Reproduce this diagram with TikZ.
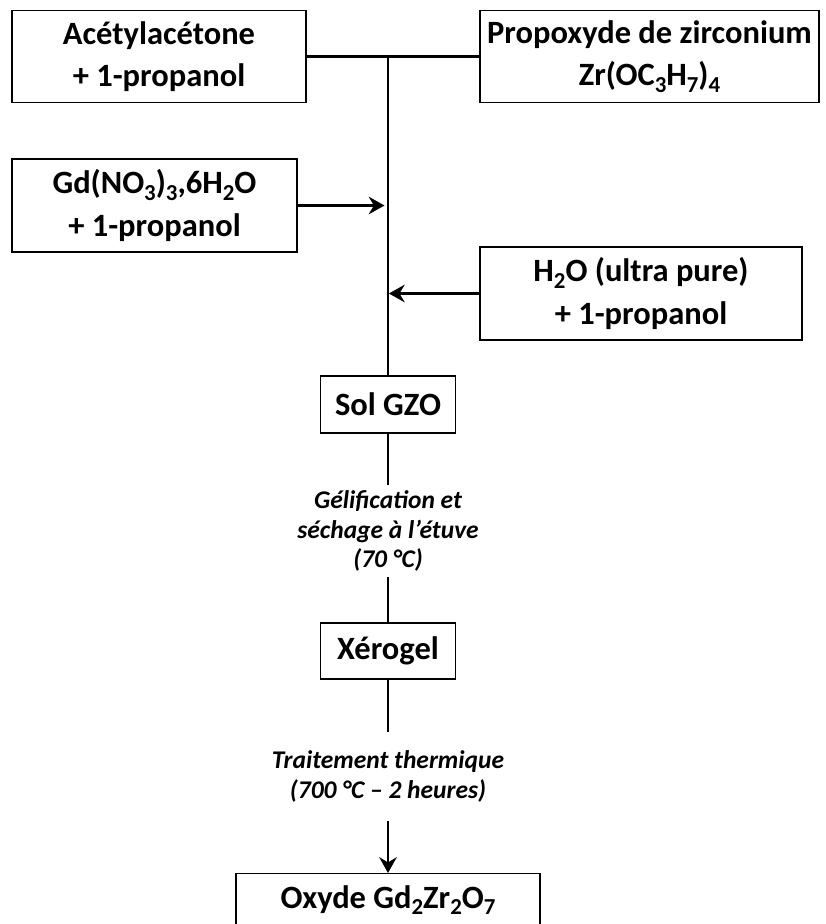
\documentclass[tikz,border=0pt]{standalone}
\usepackage{fontspec}
\setmainfont{Carlito}
\usepackage{tikz}
\usetikzlibrary{calc, arrows.meta, shapes}
\tikzset{>={Stealth[length=9pt, width=10pt, inset=3pt]}}
\newcommand{\ind}[1]{\raisebox{-0.4ex}{\fontsize{13}{13}\selectfont #1}}
\tikzset{
  boite/.style={draw, line width=0.6pt, align=center, inner xsep=2pt, inner ysep=0pt,
    font=\fontsize{18.5}{24}\selectfont\bfseries},
  etape/.style={align=center, inner xsep=0pt,
    font=\fontsize{14.5}{17}\selectfont\bfseries\itshape},
  trait/.style={line width=1.3pt}
}

\begin{document}
\begin{tikzpicture}[scale=1]
\path[use as bounding box, clip] (0,0) rectangle (16.5,-18.48);

% precurseurs
\node[boite, minimum width=5.88cm, minimum height=1.84cm] (acac) at (3.18,-1.13) {Acétylacétone\\+ 1-propanol};
\node[boite, minimum width=6.78cm, minimum height=1.84cm] (zr) at (12.99,-1.13) {Propoxyde de zirconium\\Zr(OC\ind{3}H\ind{7})\ind{4}};
\node[boite, minimum width=5.7cm, minimum height=1.86cm] (gd) at (3.09,-4.11) {Gd(NO\ind{3})\ind{3},6H\ind{2}O\\+ 1-propanol};
\node[boite, minimum width=6.44cm, minimum height=1.86cm] (eau) at (12.82,-5.87) {H\ind{2}O (ultra pure)\\+ 1-propanol};

% produits
\node[boite, minimum width=2.7cm, minimum height=1.14cm] (sol) at (7.76,-8.09) {Sol GZO};
\node[boite, minimum width=2.7cm, minimum height=1.12cm] (xero) at (7.76,-13.02) {Xérogel};
\node[boite, minimum width=6.08cm, anchor=north, text height=0.5cm, text depth=1.2cm, inner ysep=0.2cm] (oxyde) at (7.76,-17.46) {Oxyde Gd\ind{2}Zr\ind{2}O\ind{7}};

% traitements
\node[etape, inner ysep=3pt] (gel) at (7.76,-10.62) {Gélification et\\séchage à l’étuve\\(70 °C)};
\node[etape, inner ysep=10.5pt] (recuit) at (7.76,-15.53) {Traitement thermique\\(700 °C – 2 heures)};

\coordinate (jonction) at (7.76,-1.13);
\coordinate (entreegd) at (7.76,-4.11);
\coordinate (entreeeau) at (7.76,-5.87);

\draw[line width=1.6pt] (acac) -- (zr);
\draw[trait] (jonction) -- (sol);
\draw[trait, ->, shorten >=2pt] (gd) -- (entreegd);
\draw[trait, ->, shorten >=0.5pt] (eau) -- (entreeeau);
\draw[trait] (sol) -- (gel);
\draw[trait] (gel) -- (xero);
\draw[trait] (xero) -- (recuit);
\draw[trait, ->] (recuit) -- (oxyde);

\end{tikzpicture}
\end{document}
